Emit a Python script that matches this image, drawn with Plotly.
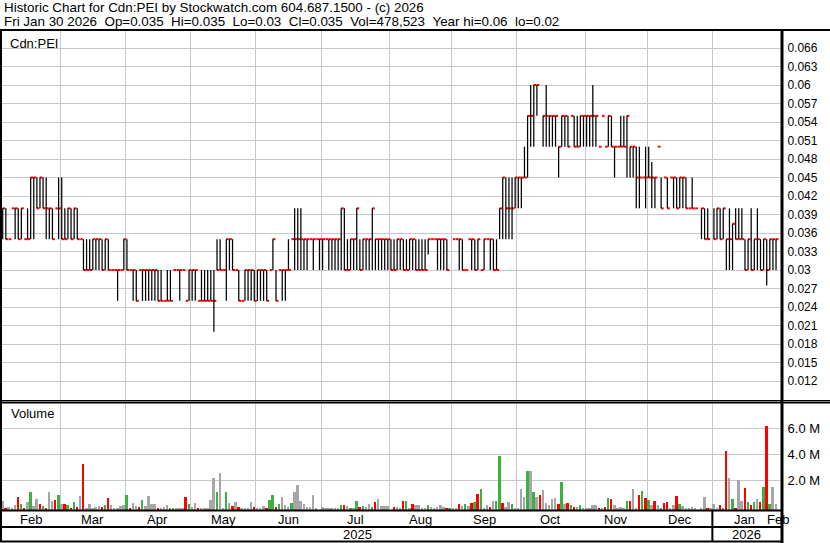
import plotly.graph_objects as go

# ---------------- data ----------------
months = ["Feb", "Mar", "Apr", "May", "Jun", "Jul", "Aug", "Sep", "Oct", "Nov", "Dec", "Jan"]
month_days = [19, 21, 21, 21, 21, 22, 20, 21, 22, 20, 21, 21]
year_labels = ["2025", "2026"]
next_month_label = "Feb"

high = [
    # Feb
    .04, .04, .035, .04, .04, .04, .04, .035, .04, .045, .045, .045, .045, .045, .045, .04, .04, .04, .045,
    # Mar
    .045, .04, .04, .04, .04, .04, .035, .035, .035, .035, .035, .035, .035, .035, .035, .035, .03, .03, .03, .03, .035,
    # Apr
    .035, .03, .03, .03, .03, .03, .03, .03, .03, .03, .03, .03, .025, .03, .03, .03, .03, .03, .03, .025, .03,
    # May
    .03, .03, .025, .03, .03, .03, .03, .03, .035, .035, .03, .035, .035, .035, .03, .03, .025, .03, .03, .03, .03,
    # Jun
    .03, .03, .03, .03, .03, .035, .03, .03, .03, .03, .035, .035, .04, .04, .04, .035, .035, .035, .035, .035, .035,
    # Jul
    .035, .035, .035, .035, .035, .035, .04, .04, .035, .035, .035, .04, .035, .035, .035, .035, .04, .035, .035, .035, .035, .035,
    # Aug
    .035, .035, .035, .035, .035, .035, .035, .035, .035, .035, .035, .035, .035, .035, .035, .035, .035, .035, .035, None,
    # Sep
    .035, .035, .035, .035, .03, .035, .035, .035, .035, .03, .035, .035, .035, .035, .035, .04, .045, .045, .045, .045, .045,
    # Oct
    .045, .045, .05, .055, .06, .06, .06, None, .055, .06, .055, .055, .055, .05, .055, .055, .055, .055, .055, .055, .055, .055,
    # Nov
    .055, .055, .06, .055, .05, .055, .05, .055, .055, .05, .05, .055, .055, .055, .05, .05, .05, .05, .045, .05,
    # Dec
    .05, .0475, .045, .05, .045, .045, .045, .045, .045, .045, .045, .045, .045, .04, .045, .04, None, .04, .04, .04, None,
    # Jan
    .04, .04, .04, .04, .035, .04, .0375, .04, .04, .04, .035, .035, .04, .035, .04, .035, .035, .035, .035, .035, .035,
]

low = [
    .035, .035, .035, .04, .035, .035, .035, .035, .035, .035, .035, .04, .04, .04, .035, .035, .035, .04, .035,
    .035, .035, .035, .035, .035, .035, .035, .03, .03, .03, .03, .03, .03, .03, .03, .03, .03, .03, .025, .03, .03,
    .03, .03, .025, .025, .03, .025, .025, .025, .025, .025, .025, .025, .025, .025, .025, .03, .03, .025, .03, .025, .025,
    .025, .025, .025, .025, .025, .025, .025, .02, .03, .03, .03, .025, .03, .03, .03, .025, .025, .025, .025, .025, .025,
    .025, .025, .025, .025, .03, .03, .025, .03, .025, .025, .03, .035, .03, .03, .03, .03, .03, .035, .03, .035, .03,
    .03, .035, .03, .03, .03, .03, .03, .03, .03, .03, .03, .03, .03, .03, .03, .03, .03, .03, .03, .03, .03, .03,
    .03, .03, .03, .03, .03, .03, .03, .03, .03, .03, .03, .03, .0325, .035, .035, .03, .03, .03, .03, None,
    .035, .035, .03, .03, .03, .035, .03, .03, .03, .03, .03, .035, .03, .03, .03, .035, .035, .035, .035, .035, .04,
    .04, .04, .045, .045, .05, .05, .055, None, .05, .05, .05, .05, .05, .045, .05, .05, .05, .055, .05, .05, .05, .05,
    .05, .05, .05, .05, .05, .055, .05, .05, .05, .045, .05, .05, .05, .045, .045, .045, .04, .04, .045, .04,
    .045, .04, .04, .05, .04, .045, .04, .045, .04, .04, .04, .04, .04, .04, .04, .04, None, .035, .035, .035, None,
    .035, .035, .035, .035, .03, .03, .03, .035, .035, .035, .03, .03, .03, .03, .03, .03, .03, .0275, .03, .03, .03,
]

close = [
    .04, .035, .035, .04, .04, .035, .04, .035, .035, .045, .045, .04, .045, .04, .04, .04, .035, .04, .04,
    .035, .035, .04, .035, .04, .035, .035, .03, .03, .03, .035, .035, .035, .03, .035, .03, .03, .03, .03, .03, .035,
    .03, .03, .03, .025, .03, .03, .03, .03, .03, .03, .025, .025, .025, .025, .025, .03, .03, .03, .03, .025, .03,
    .03, .03, .025, .025, .025, .025, .025, .025, .03, .03, .03, .035, .035, .03, .03, .025, .025, .03, .03, .03, .025,
    .03, .03, .03, .025, .03, .035, .025, .03, .03, .03, .03, .035, .035, .035, .035, .035, .035, .035, .035, .035, .035,
    .035, .035, .035, .035, .035, .035, .04, .03, .03, .035, .035, .04, .03, .035, .035, .035, .04, .035, .035, .035, .035, .035,
    .03, .03, .035, .035, .03, .03, .035, .035, .03, .03, .03, .03, .035, .035, .035, .035, .035, .035, .03, None,
    .035, .035, .035, .03, .03, .035, .035, .03, .035, .03, .035, .035, .035, .03, .03, .04, .045, .04, .04, .04, .045,
    .045, .045, .045, .055, .055, .06, .06, None, .055, .055, .055, .055, .055, .05, .055, .055, .05, .055, .05, .05, .055, .055,
    .055, .055, .055, .055, .05, .055, .05, .055, .05, .05, .05, .05, .05, .055, .05, .05, .045, .045, .045, .045,
    .045, .045, .045, .05, .04, .045, .04, .045, .045, .04, .045, .045, .04, .04, .04, .04, None, .04, .035, .035, None,
    .035, .04, .035, .04, .035, .035, .0375, .035, .035, .035, .03, .035, .03, .035, .035, .03, .035, .03, .035, .035, .035,
]

# daily volume, millions of shares
volume_m = [
    .69, .15, .23, .15, .38, 1.0, .46, .08, .62, 1.38,
    .31, .85, .46, .31, .08, 1.38, .69, .77, 1.15, .46,
    .46, .38, .08, .62, .23, 1.08, 3.56, .08, .46, .08,
    .23, .31, .23, .38, .92, .38, .15, .15, .31, .38,
    1.15, .15, .54, .31, .23, .77, .31, 1.08, .46, .46,
    .08, .08, .23, .38, .08, .15, .08, .15, .08, 1.0,
    .46, .23, .54, .15, .15, .1, .15, .77, 2.46, 1.38,
    2.85, .08, 1.38, .54, .31, .62, .23, .15, .15, .15,
    .62, .23, .08, .08, .31, .08, .77, 1.15, .23, .46,
    1.0, .38, .23, .54, 1.38, 1.92, .69, .46, .23, .23,
    1.15, .08, 0, .23, .08, .15, .15, .15, .15, .38,
    .38, .31, .15, .15, .69, .23, .31, .23, .46, .23,
    .62, .85, .31, .31, .31, 0, .23, .23, .15, .69,
    .69, .15, .46, .38, .38, .15, .15, .38, .23, .15,
    .23, .38, .23, .08, .15, .08, .08, .46, .31, .46,
    .31, .54, .62, 1.23, 1.62, .15, .38, .23, .69, .69,
    4.15, .54, .23, .62, .46, .08, .15, 1.62, 1.0, 3.0,
    3.0, 1.38, 1.0, 1.15, 1.54, .54, .38, .85, .92, .46,
    2.15, .46, .54, .38, .23, .23, .38, .15, .15, .15,
    .38, .38, .15, .08, .23, .92, .85, .38, .08, .23,
    .15, .69, .69, 1.62, .08, 1.15, 1.46, .92, .77, .38,
    .69, .38, .08, .54, .62, .08, .38, 1.08, .46, .31,
    .15, .08, .23, .08, 0, .08, 1.0, .15, .15, .46,
    .15, .38, .15, 4.54, 2.46, .85, .08, 2.31, .69, 1.69,
    .62, .38, .62, .85, .62, 1.77, 6.46, .46, 1.77, .48,
]

# volume bar direction: 1 up day, -1 down day, 0 unchanged
vol_dir = [
    0, -1, 0, 0, 0, -1, 1, -1, 0, 1,
    0, 0, -1, 1, -1, 0, 0, -1, 1, 0,
    -1, 1, -1, 1, -1, 0, -1, 0, 0, 0,
    0, 0, -1, 1, -1, 0, 0, 0, 0, 0,
    1, -1, 0, 0, -1, 1, 0, 0, 0, 0,
    -1, 0, 0, 0, 1, 1, 0, 0, 0, -1,
    1, 0, 0, -1, 0, 0, 0, 0, 0, 1,
    0, 0, 1, 0, -1, 0, -1, 0, 0, 0,
    0, -1, 0, 0, 0, -1, 1, 1, -1, 1,
    0, 0, 0, 1, 0, 0, 0, 0, 0, 0,
    0, 0, 0, 0, 0, 0, 0, 0, 0, 1,
    -1, 0, 1, 0, 1, -1, 1, 0, 0, 1,
    -1, 0, 0, 0, 0, 0, -1, 0, 0, -1,
    1, 0, -1, 0, 0, 0, 0, 1, 0, 0,
    0, 0, 0, -1, 1, 0, 0, -1, 0, 1,
    0, -1, 1, -1, 1, 0, 0, -1, 0, 1,
    1, -1, 0, 0, 1, 0, 0, 0, 0, 1,
    0, 1, 0, -1, 0, 0, 0, 0, 0, -1,
    1, 0, -1, 1, -1, 0, 1, 0, 0, 0,
    0, 0, -1, 0, -1, 1, -1, 0, 0, 0,
    0, 1, -1, 0, 0, -1, 1, -1, 1, 0,
    -1, 0, 1, -1, -1, 0, 0, -1, 1, 0,
    0, 0, 0, 0, 0, 0, 0, -1, 0, 0,
    0, -1, 1, -1, 0, 1, -1, 0, 0, -1,
    1, -1, 1, 0, -1, 1, -1, 1, 0, 0,
]

price_ticks = [0.012, 0.015, 0.018, 0.021, 0.024, 0.027, 0.030, 0.033, 0.036, 0.039,
               0.042, 0.045, 0.048, 0.051, 0.054, 0.057, 0.060, 0.063, 0.066]
volume_ticks_m = [2, 4, 6]

title_line1 = "Historic Chart for Cdn:PEI by Stockwatch.com 604.687.1500 - (c) 2026"
title_line2 = ("Fri Jan 30 2026  Op=0.035  Hi=0.035  Lo=0.03  Cl=0.035  "
               "Vol=478,523  Year hi=0.06  lo=0.02")
symbol_label = "Cdn:PEI"
volume_label = "Volume"

# ---------------- layout geometry (pixels) ----------------
W, H = 830, 543
PL, PR = 2, 781          # plot area left/right in px
PT, PB = 31, 510         # plot area top/bottom in px
PRICE_BOTTOM = 400
VOL_TOP = 403
X_RANGE = [-0.23, 250.6]
VOL_FLOOR = -0.25        # volume bars are drawn from the panel floor
FONT = "Arial, Liberation Sans, sans-serif"


def px_x(px):
    return (px - PL) / (PR - PL)


def px_y(py):
    return (PB - py) / (PB - PT)


def idx_px(i):
    return PL + (i - X_RANGE[0]) / (X_RANGE[1] - X_RANGE[0]) * (PR - PL)


n = len(close)
idx = list(range(n))

# high-low stems and close ticks
hx, hy, cx, cy = [], [], [], []
for i in idx:
    if close[i] is None:
        continue
    if high[i] > low[i]:
        hx += [i, i, None]
        hy += [low[i], high[i], None]
    cx += [i - 0.05, i + 0.8, None]
    cy += [close[i], close[i], None]

col_map = {1: "#3cb043", -1: "#ff0000", 0: "#a6a6a6"}
vol_colors = [col_map[d] for d in vol_dir]

# month boundaries
bounds = []
acc = 0
for d in month_days:
    acc += d
    bounds.append(acc - 0.5)
starts = [-0.5] + bounds[:-1]

fig = go.Figure()
fig.add_trace(go.Scatter(x=cx, y=cy, mode="lines", line=dict(color="#ff0000", width=2),
                         hoverinfo="skip", xaxis="x", yaxis="y"))
fig.add_trace(go.Scatter(x=hx, y=hy, mode="lines", line=dict(color="#000000", width=1.25),
                         hoverinfo="skip", xaxis="x", yaxis="y"))
fig.add_trace(go.Bar(x=idx, y=volume_m, base=VOL_FLOOR,
                     marker=dict(color=vol_colors, line=dict(width=0)),
                     width=0.62, hoverinfo="skip", xaxis="x", yaxis="y2"))

grid = "#c8c8c8"
fig.update_layout(
    width=W, height=H,
    margin=dict(l=PL, r=W - PR, t=PT, b=H - PB, pad=0),
    paper_bgcolor="white", plot_bgcolor="white",
    showlegend=False, bargap=0,
    font=dict(family=FONT, size=12, color="black"),
    xaxis=dict(range=X_RANGE, domain=[0, 1], anchor="y2",
               tickvals=bounds[:-1], showticklabels=False, ticks="",
               showgrid=True, gridcolor=grid, gridwidth=1, zeroline=False,
               showline=False, fixedrange=True),
    yaxis=dict(domain=[px_y(PRICE_BOTTOM), 1], range=[0.00892, 0.06876],
               side="right", anchor="x", tickvals=price_ticks,
               ticktext=[f"{v:g}" for v in price_ticks],
               ticks="outside", ticklen=3, tickcolor="rgba(0,0,0,0)",
               showgrid=True, gridcolor=grid, gridwidth=1, zeroline=False,
               showline=False, fixedrange=True,
               tickfont=dict(family=FONT, size=12, color="black")),
    yaxis2=dict(domain=[0, px_y(VOL_TOP)], range=[VOL_FLOOR, 7.99],
                side="right", anchor="x", tickvals=volume_ticks_m,
                ticktext=[f"{v:.1f} M" for v in volume_ticks_m],
                ticks="outside", ticklen=3, tickcolor="rgba(0,0,0,0)",
                showgrid=True, gridcolor=grid, gridwidth=1, zeroline=False,
                showline=False, fixedrange=True,
                tickfont=dict(family=FONT, size=13, color="black")),
)

# header and panel labels
HF = 13.4
ann = [
    dict(text=title_line1.replace("  ", "\u00a0\u00a0"), x=px_x(2), y=px_y(8), xanchor="left", yanchor="middle",
         font=dict(size=HF)),
    dict(text=title_line2.replace("  ", "\u00a0\u00a0"), x=px_x(2), y=px_y(21.5), xanchor="left", yanchor="middle",
         font=dict(size=HF)),
    dict(text=symbol_label, x=px_x(8), y=px_y(43), xanchor="left", yanchor="middle", font=dict(size=13)),
    dict(text=volume_label, x=px_x(9), y=px_y(413), xanchor="left", yanchor="middle", font=dict(size=13)),
]
for m, s, e in zip(months, starts, bounds):
    ann.append(dict(text=m, x=px_x(idx_px((s + e) / 2)), y=px_y(519), xanchor="center",
                    yanchor="middle", font=dict(size=13)))
ann.append(dict(text=next_month_label, x=px_x(idx_px(bounds[-1])), y=px_y(519), xanchor="center",
                yanchor="middle", font=dict(size=13)))
jan_px = idx_px(bounds[-2])
ann.append(dict(text=year_labels[0], x=px_x((PL + jan_px) / 2), y=px_y(534.5), xanchor="center",
                yanchor="middle", font=dict(size=13)))
ann.append(dict(text=year_labels[1], x=px_x((jan_px + PR) / 2), y=px_y(534.5), xanchor="center",
                yanchor="middle", font=dict(size=13)))
for a in ann:
    a.update(xref="paper", yref="paper", showarrow=False)
fig.update_layout(annotations=ann)


def hline(py, x0, x1, w):
    return dict(type="line", xref="paper", yref="paper", x0=px_x(x0), x1=px_x(x1),
                y0=px_y(py), y1=px_y(py), line=dict(color="black", width=w), layer="above")


def vline(px, y0, y1, w):
    return dict(type="line", xref="paper", yref="paper", x0=px_x(px), x1=px_x(px),
                y0=px_y(y0), y1=px_y(y1), line=dict(color="black", width=w), layer="above")


shapes = [
    hline(30, 0, W, 2),
    hline(400.5, 0, W, 1),
    hline(402.5, 0, W, 2),
    hline(510.5, 0, PR, 2),
    hline(527, 0, PR, 2),
    hline(541.5, 0, PR, 2),
    vline(1, 30, 542, 2),
    vline(782, 30, 543, 3),
    vline(jan_px, 510, 541, 2),
]
fig.update_layout(shapes=shapes)

fig.write_html("out.html", config={"displayModeBar": False},
               post_script="document.body.style.margin='0px';document.body.style.padding='0px';")
